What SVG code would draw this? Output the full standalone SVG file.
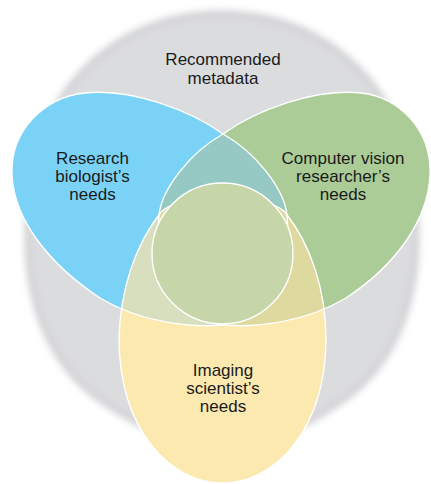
<svg xmlns="http://www.w3.org/2000/svg" xmlns:xlink="http://www.w3.org/1999/xlink" width="431" height="484" viewBox="0 0 431 484">
<style>
.lbl{font-family:"Liberation Sans",Arial,Helvetica,sans-serif;font-size:17px;fill:#1a1a1a;text-anchor:middle}
.edge{fill:none;stroke:#ffffff;stroke-width:1.4}
</style>
<defs>
<filter id="soft" x="-6%" y="-6%" width="112%" height="112%"><feGaussianBlur stdDeviation="3.8"/></filter>
<path id="pGrey" d="M222,7 C330,7 415,85 421,205 C430,300 400,375 335,413 C300,437 260,450 222,450 C184,450 144,437 109,413 C44,375 14,300 23,205 C29,85 114,7 222,7 Z"/>
<path id="pBlue" d="M223,134 C190,110 130,88 85,93 C45,97 10,130 12,175 C14,220 50,265 100,298 C140,322 190,328 222,325 C255,318 292,262 287,215 C284,188 255,152 223,134 Z"/>
<path id="pGreen" d="M223,134 C256,110 316,88 361,93 C399,97 432,130 430,175 C428,220 396,265 346,298 C306,322 256,328 224,325 C191,318 154,262 159,215 C162,188 191,152 223,134 Z"/>
<path id="pYellow" d="M222.5,483 C170,483 120,430 119,340 C120,290 135,245 161,212 C185,190 260,190 285,212 C311,245 326,290 326,340 C325,430 275,483 222.5,483 Z"/>
<clipPath id="cBlue"><use xlink:href="#pBlue"/></clipPath>
<clipPath id="cGreen"><use xlink:href="#pGreen"/></clipPath>
</defs>
<g id="recommended-metadata">
<use xlink:href="#pGrey" fill="#d2d3d6" filter="url(#soft)" transform="translate(222,228) scale(0.985) translate(-222,-228)"/>
<use xlink:href="#pGrey" fill="#dbdcde" filter="url(#soft)" transform="translate(222,228) scale(0.955) translate(-222,-228)"/>
<text class="lbl" x="223" y="65">Recommended</text>
<text class="lbl" x="223" y="83.5">metadata</text>
</g>
<g id="research-biologist">
<use xlink:href="#pBlue" fill="#7ad3f7"/>
</g>
<g id="computer-vision-researcher">
<use xlink:href="#pGreen" fill="#abcc96"/>
</g>
<g id="imaging-scientist">
<use xlink:href="#pYellow" fill="#fce9b0"/>
</g>
<g id="overlaps">
<use xlink:href="#pGreen" fill="#96c8c4" clip-path="url(#cBlue)"/>
<use xlink:href="#pYellow" fill="#d8dfbf" clip-path="url(#cBlue)"/>
<use xlink:href="#pYellow" fill="#ded99e" clip-path="url(#cGreen)"/>
<use xlink:href="#pBlue" class="edge"/>
<use xlink:href="#pGreen" class="edge"/>
<use xlink:href="#pYellow" class="edge"/>
</g>
<g id="shared-core">
<circle cx="222.5" cy="253.5" r="70.5" fill="#c6d6a9" stroke="#ffffff" stroke-width="1.4"/>
</g>
<g id="labels">
<text class="lbl" x="92.5" y="163.5">Research</text>
<text class="lbl" x="92.5" y="181.5">biologist’s</text>
<text class="lbl" x="92.5" y="199.5">needs</text>
<text class="lbl" x="343" y="163.5">Computer vision</text>
<text class="lbl" x="343" y="181.5">researcher’s</text>
<text class="lbl" x="343" y="199.5">needs</text>
<text class="lbl" x="223" y="375.5">Imaging</text>
<text class="lbl" x="223" y="393.5">scientist’s</text>
<text class="lbl" x="223" y="412">needs</text>
</g>
<g id="connectors"/>
</svg>
